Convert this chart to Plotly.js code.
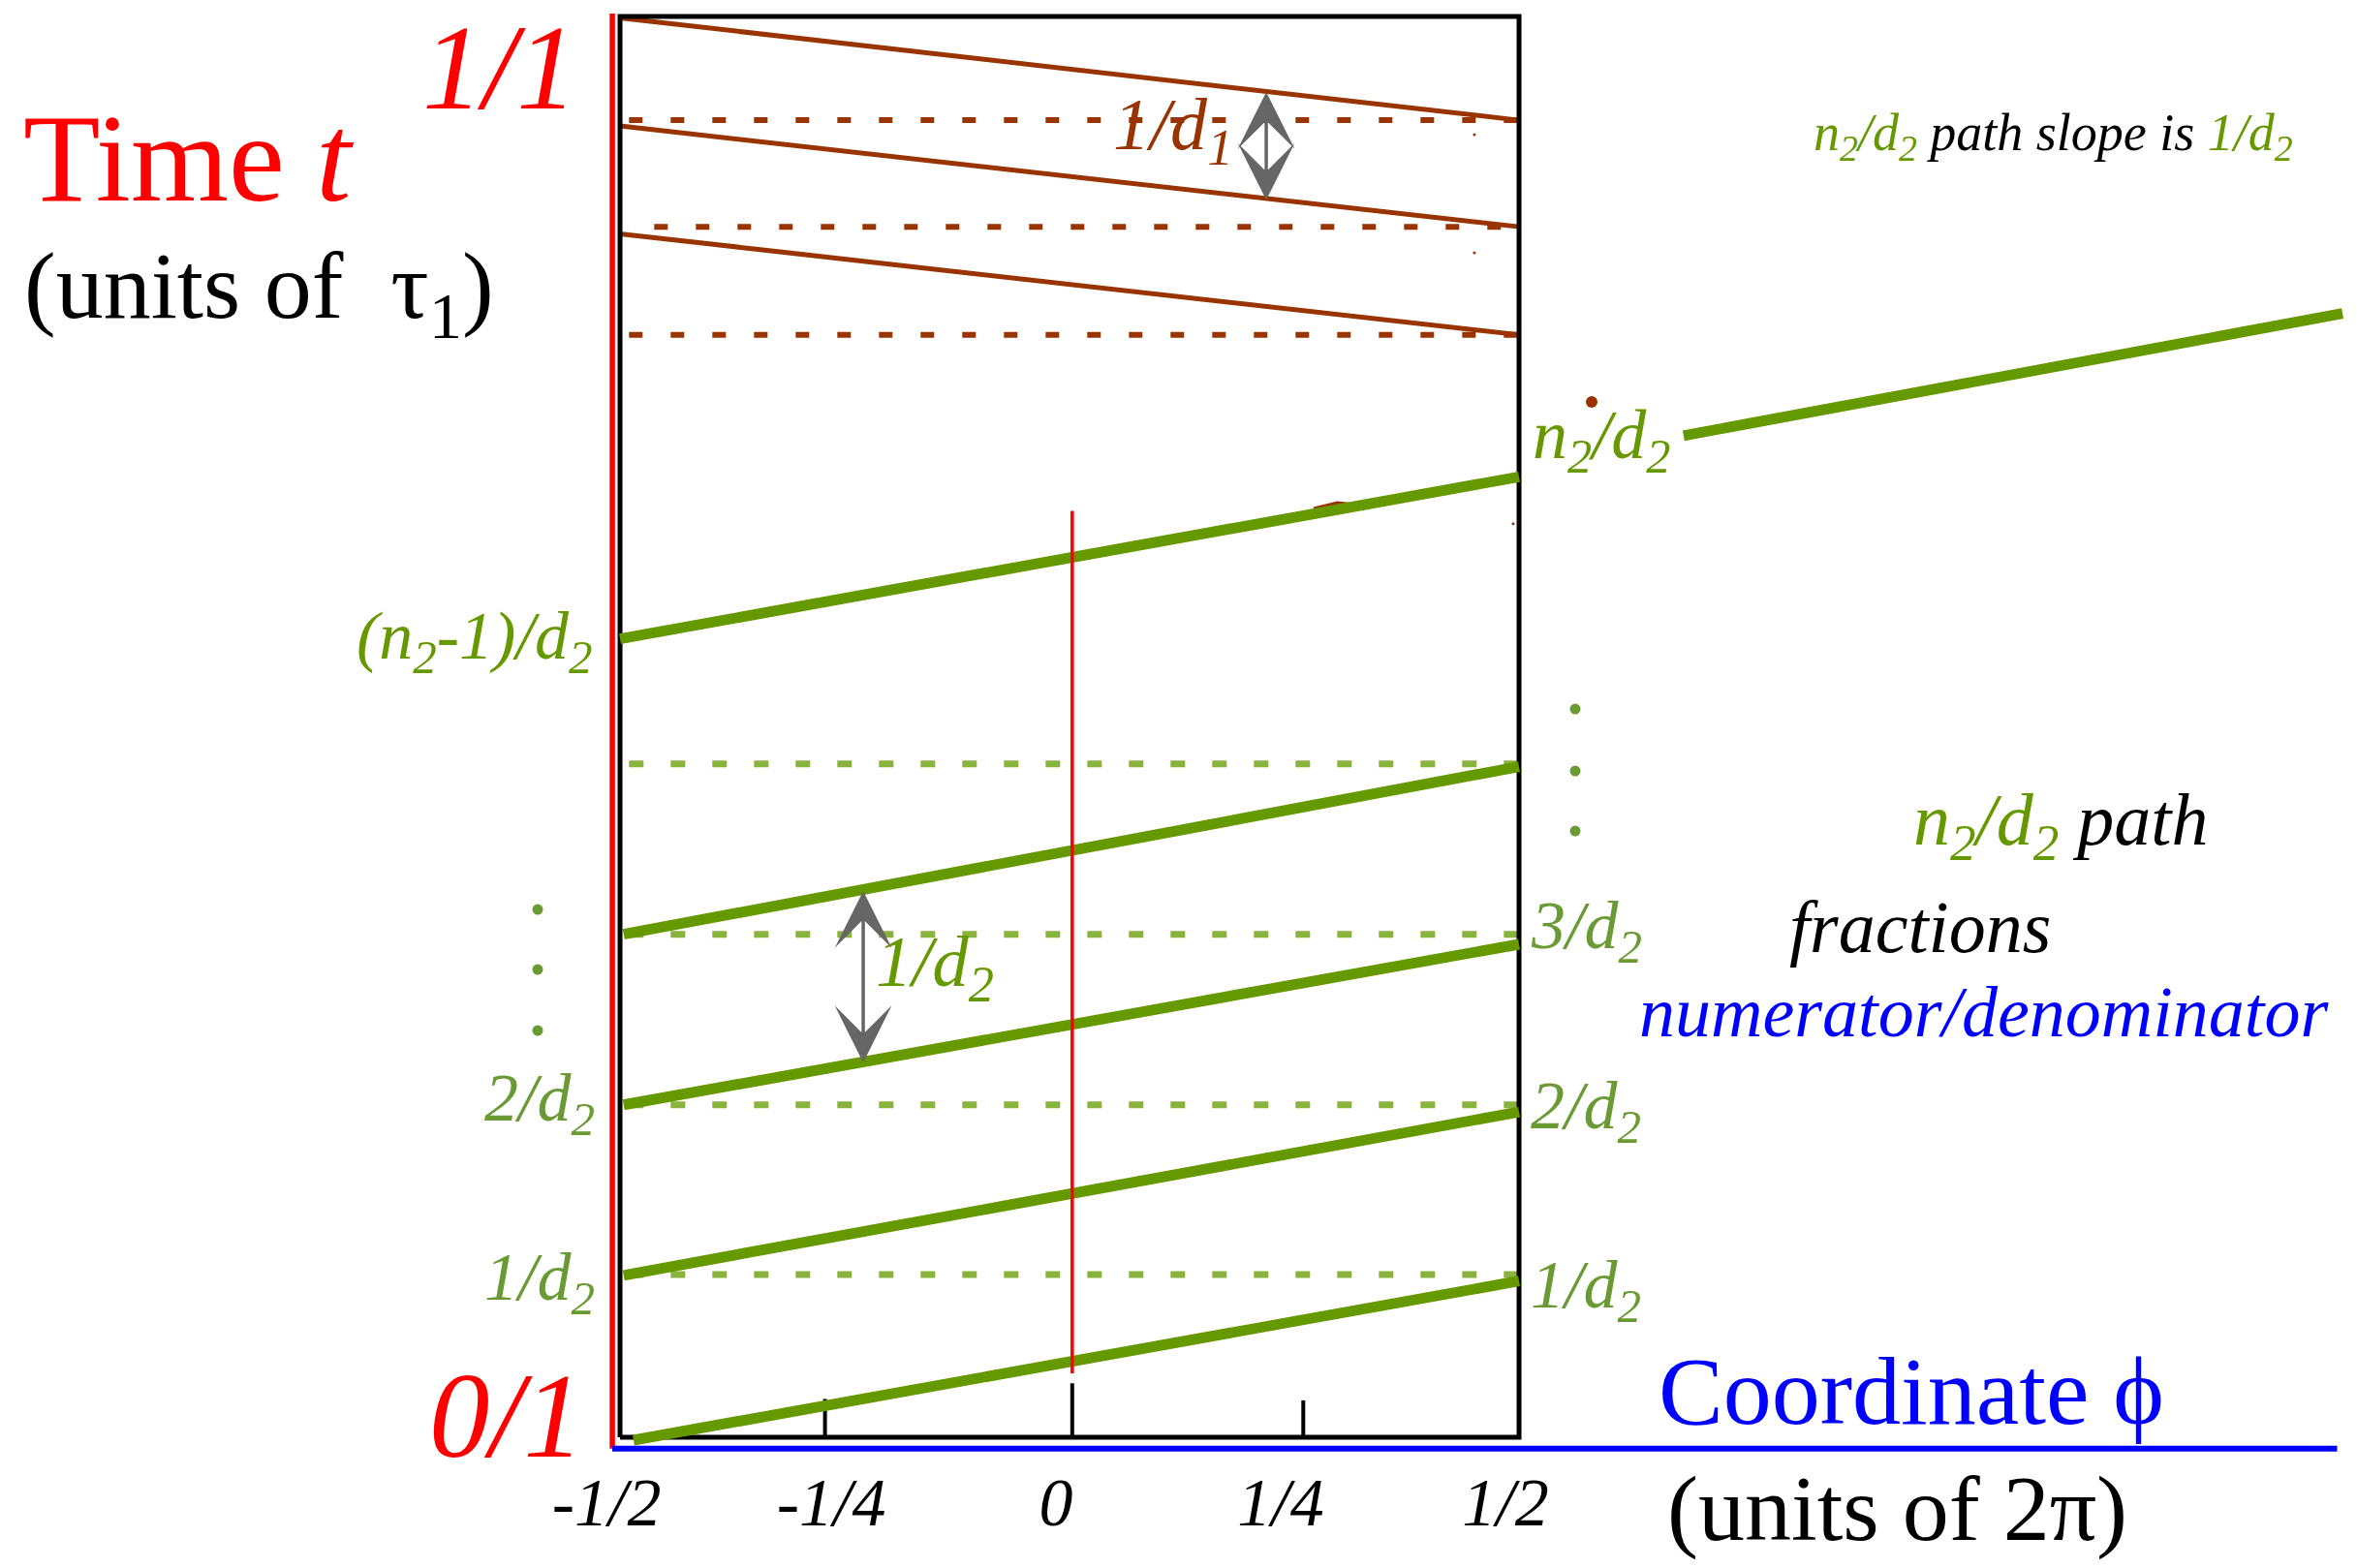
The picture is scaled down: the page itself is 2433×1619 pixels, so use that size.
<!DOCTYPE html>
<html>
<head>
<meta charset="utf-8">
<script src="https://cdn.plot.ly/plotly-3.0.1.min.js"></script>
<style>html,body{margin:0;padding:0;background:#fff;}#chart{width:2433px;height:1619px;}</style>
</head>
<body>
<div id="chart"></div>
<script>
// ---- data (phi in units of 2π, t in units of τ1) ----
const xTickVals = [-0.5, -0.25, 0, 0.25, 0.5];
const xTickText = ['-1/2', '-1/4', '0', '1/4', '1/2'];
const tickMarkPhi = [-0.272, 0.003, 0.26];
const tickMarkTop = [0.027, 0.038, 0.026];

// n2/d2 green path segments
const greenStartPhi = [-0.485, -0.496, -0.496, -0.496, -0.5];
const greenStartT   = [-0.002, 0.114, 0.234, 0.354, 0.562];
const greenEndPhi   = [0.5, 0.5, 0.5, 0.5, 0.5];
const greenEndT     = [0.110, 0.229, 0.347, 0.472, 0.676];
const greenExtPhi   = [0.683, 1.416];
const greenExtT     = [0.705, 0.791];
// green dashed levels k/d2
const greenLevels   = [0.1145, 0.234, 0.354, 0.474];
const greenLevelStart = [-0.49, -0.49, -0.49, -0.49];

// 1/d1 brown path segments
const brownStartT = [0.999, 0.923, 0.847];
const brownEndT   = [0.927, 0.852, 0.776];
const brownLevels = [0.927, 0.852, 0.776];
const brownLevelStart = [-0.49, -0.462, -0.49];
// small brown stray marks
const brownBlobPhi = [0.272, 0.298, 0.328], brownBlobT = [0.6525, 0.6565, 0.6545];
const brownSpeckPhi = [0.4935, 0.4503, 0.4503];
const brownSpeckT   = [0.643, 0.9168, 0.8337];

// red time axis and phi=0 line
const redAxisPhi = -0.5086, redAxisT = [-0.008, 1.002];
const redMidPhi = 0.003, redMidT = [0.045, 0.652];
// blue coordinate axis
const blueAxisPhi = [-0.5086, 1.41], blueAxisT = -0.008;

// double arrows [phi, tLow, tHigh]
const arrow1 = [0.2188, 0.8698, 0.9468];
const arrow2 = [-0.2295, 0.2627, 0.3845];

// ellipsis dots
const dotsLeftPhi = -0.5916, dotsLeftT = [0.3715, 0.3292, 0.2863];
const dotsRightPhi = 0.5625, dotsRightT = [0.5126, 0.469, 0.4267];
const brownDot = [0.5808, 0.7287];

// ---- colours ----
const GREEN = '#669900', GREEN_D = '#8ab33e', GREEN_T = '#6a9a33', BROWN = '#993300',
      RED = '#ff0000', BLUE = '#0000ff', GRAY = '#666666';
const FONT = 'Liberation Serif, Times New Roman, serif';

const traces = [];
function seg(x, y, color, width, dash) {
  traces.push({type: 'scatter', mode: 'lines', x: x, y: y, hoverinfo: 'skip',
    line: {color: color, width: width, dash: dash || 'solid'}});
}
// brown dashed levels and paths
brownLevels.forEach((t, i) => seg([brownLevelStart[i], 0.5], [t, t], BROWN, 6, '14px,29px'));
brownStartT.forEach((t, i) => seg([-0.5, 0.5], [t, brownEndT[i]], BROWN, 5));
seg(brownBlobPhi, brownBlobT, BROWN, 7);
traces.push({type: 'scatter', mode: 'markers', hoverinfo: 'skip', x: brownSpeckPhi, y: brownSpeckT,
  marker: {color: BROWN, size: 3, line: {width: 0}}});
// green dashed levels
greenLevels.forEach((t, i) => seg([greenLevelStart[i], 0.5], [t, t], GREEN_D, 7, '15px,28px'));
// box
seg([-0.5, 0.5, 0.5, -0.5, -0.5], [0, 0, 1, 1, 0], '#000000', 5);
// ticks
tickMarkPhi.forEach((p, i) => seg([p, p], [0, tickMarkTop[i]], '#000000', 4));
// green paths
greenStartT.forEach((t, i) => seg([greenStartPhi[i], greenEndPhi[i]], [t, greenEndT[i]], GREEN, 11));
seg(greenExtPhi, greenExtT, GREEN, 11);
// red lines
seg([redAxisPhi, redAxisPhi], redAxisT, RED, 5.5);
seg([redMidPhi, redMidPhi], redMidT, RED, 3.5);
// blue axis
seg(blueAxisPhi, [blueAxisT, blueAxisT], BLUE, 6);
// dots
traces.push({type: 'scatter', mode: 'markers', hoverinfo: 'skip',
  x: dotsLeftT.map(() => dotsLeftPhi).concat(dotsRightT.map(() => dotsRightPhi)),
  y: dotsLeftT.concat(dotsRightT),
  marker: {color: GREEN_T, size: 11, line: {width: 0}}});
traces.push({type: 'scatter', mode: 'markers', hoverinfo: 'skip',
  x: [brownDot[0]], y: [brownDot[1]], marker: {color: BROWN, size: 12, line: {width: 0}}});

function txt(x, y, text, size, color, anchor) {
  return {x: x, y: y, xref: 'x', yref: 'y', text: text, showarrow: false,
    xanchor: anchor || 'center', yanchor: 'middle',
    font: {family: FONT, size: size, color: color}};
}
function arrow(a) {
  return {x: a[0], y: a[2], ax: a[0], ay: a[1], xref: 'x', yref: 'y', axref: 'x', ayref: 'y',
    text: '', showarrow: true, arrowside: 'end+start', arrowhead: 3, startarrowhead: 3,
    arrowwidth: 3.5, arrowsize: 2.8, startarrowsize: 2.8, arrowcolor: GRAY,
    standoff: 0, startstandoff: 0};
}
const sub = s => '<sub>' + s + '</sub>';
const annotations = [
  txt(-0.6336, 0.9642, '<i>1/1</i>', 125, RED),
  txt(-0.9806, 0.9005, 'Time <i>t</i>', 130, RED),
  txt(-0.9016, 0.8057, '(units of  τ' + sub('1') + ')', 98, '#000000'),
  txt(-0.6261, 0.0147, '<i>0/1</i>', 125, RED),
  txt(0.9364, 0.0327, 'Coordinate ϕ', 100, BLUE),
  txt(0.9213, -0.0504, '(units of 2π)', 96, '#000000'),
  txt(1.0948, 0.9155, '<span style="color:' + GREEN + '"><i>n' + sub('2') + '/d' + sub('2') + '</i></span><i> path slope is </i><span style="color:' + GREEN + '"><i>1/d' + sub('2') + '</i></span>', 54, '#000000'),
  txt(0.5129, 0.7021, '<i>n' + sub('2') + '/d' + sub('2') + '</i>', 72, GREEN, 'left'),
  txt(-0.5291, 0.5603, '<i>(n' + sub('2') + '-1)/d' + sub('2') + '</i>', 70, GREEN, 'right'),
  txt(-0.5259, 0.2352, '<i>2/d' + sub('2') + '</i>', 70, GREEN_T, 'right'),
  txt(-0.5259, 0.1091, '<i>1/d' + sub('2') + '</i>', 70, GREEN_T, 'right'),
  txt(0.5108, 0.3565, '<i>3/d' + sub('2') + '</i>', 70, GREEN_T, 'left'),
  txt(0.5108, 0.2297, '<i>2/d' + sub('2') + '</i>', 70, GREEN_T, 'left'),
  txt(0.5108, 0.1036, '<i>1/d' + sub('2') + '</i>', 70, GREEN_T, 'left'),
  txt(0.9364, 0.4308, '<span style="color:' + GREEN + '"><i>n' + sub('2') + '/d' + sub('2') + '</i></span><i> path</i>', 76, '#000000', 'left'),
  txt(0.7985, 0.3592, '<i>fractions</i>', 76, '#000000', 'left'),
  txt(0.6315, 0.2993, '<i>numerator/denominator</i>', 74, BLUE, 'left'),
  txt(0.0463, 0.9203, '<i>1/d' + sub('1') + '</i>', 76, BROWN, 'left'),
  txt(-0.2177, 0.3313, '<i>1/d' + sub('2') + '</i>', 75, GREEN, 'left'),
  arrow(arrow1),
  arrow(arrow2)
];

const layout = {
  width: 2433, height: 1619,
  margin: {l: 0, r: 0, t: 0, b: 0, pad: 0},
  paper_bgcolor: '#ffffff', plot_bgcolor: '#ffffff',
  showlegend: false, hovermode: false,
  xaxis: {range: [-1.1897, 1.4321], anchor: 'free', position: 135 / 1619,
    showgrid: false, zeroline: false, showline: false, ticks: '',
    tickmode: 'array', tickvals: xTickVals, ticktext: xTickText,
    ticklabelstandoff: 20, ticklabelshift: -14,
    tickfont: {family: FONT, size: 70, color: '#000000', style: 'italic'}},
  yaxis: {range: [-0.0920, 1.0116], visible: false, showgrid: false, zeroline: false},
  annotations: annotations
};
Plotly.newPlot('chart', traces, layout, {staticPlot: true, displayModeBar: false});
</script>
</body>
</html>
